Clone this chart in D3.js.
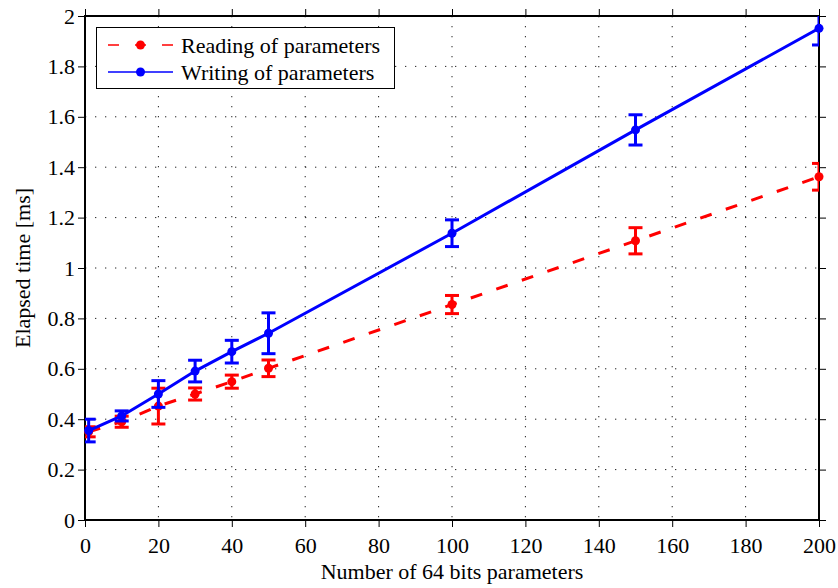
<!DOCTYPE html>
<html>
<head>
<meta charset="utf-8">
<script src="https://cdn.jsdelivr.net/npm/d3@7"></script>
<style>
  html, body { margin: 0; padding: 0; background: #fff; }
  svg text { font-family: "Liberation Serif", "Times New Roman", Times, serif; fill: #000; }
</style>
</head>
<body>
<svg id="chart" width="838" height="588"></svg>
<script>
// Number of 64-bit parameters transferred
const paramCounts = [1, 10, 20, 30, 40, 50, 100, 150, 200];

// Reading of parameters: mean elapsed time [ms] and error half-width
const readMean = [0.350, 0.390, 0.452, 0.500, 0.549, 0.602, 0.855, 1.108, 1.362];
const readErr  = [0.020, 0.022, 0.071, 0.024, 0.026, 0.033, 0.036, 0.052, 0.053];

// Writing of parameters: mean elapsed time [ms] and error half-width
const writeMean = [0.355, 0.413, 0.500, 0.591, 0.668, 0.741, 1.138, 1.548, 1.951];
const writeErr  = [0.045, 0.020, 0.053, 0.043, 0.045, 0.081, 0.053, 0.060, 0.066];

const xTicks = [0, 20, 40, 60, 80, 100, 120, 140, 160, 180, 200];
const yTicks = [0, 0.2, 0.4, 0.6, 0.8, 1, 1.2, 1.4, 1.6, 1.8, 2];

const seriesNames = ["Reading of parameters", "Writing of parameters"];
const seriesColors = ["#ff0000", "#0000ff"];

const svg = d3.select("#chart");
const plotLeft = 85, plotRight = 819, plotTop = 16, plotBottom = 520;

const x = d3.scaleLinear().domain([0, 200]).range([plotLeft, plotRight]);
const y = d3.scaleLinear().domain([0, 2]).range([plotBottom, plotTop]);

const fontSize = 22;

// plot clipping region
svg.append("defs").append("clipPath").attr("id", "plotClip")
  .append("rect").attr("x", plotLeft).attr("y", plotTop)
  .attr("width", plotRight - plotLeft).attr("height", plotBottom - plotTop);

// dotted grid
const grid = svg.append("g").attr("class", "grid");
grid.selectAll("line.gx").data(xTicks.slice(1, -1)).join("line")
  .attr("x1", d => x(d)).attr("x2", d => x(d))
  .attr("y1", plotTop).attr("y2", plotBottom)
  .attr("stroke", "#222").attr("stroke-width", 1)
  .attr("stroke-dasharray", "1.3,8.7");
grid.selectAll("line.gy").data(yTicks.slice(1, -1)).join("line")
  .attr("x1", plotLeft).attr("x2", plotRight)
  .attr("y1", d => y(d)).attr("y2", d => y(d))
  .attr("stroke", "#222").attr("stroke-width", 1)
  .attr("stroke-dasharray", "1.3,8.7");

// axes on all four sides, ticks outward
function styleAxis(g) {
  g.select(".domain").remove();
  g.selectAll(".tick line").attr("stroke", "#000").attr("stroke-width", 1);
  g.selectAll(".tick text").attr("font-size", fontSize)
    .attr("font-family", "Liberation Serif, Times New Roman, serif");
}
const fmt = d => String(+d.toFixed(1));

svg.append("g").attr("transform", `translate(0,${plotBottom})`)
  .call(d3.axisBottom(x).tickValues(xTicks).tickSize(7).tickSizeOuter(0).tickPadding(10).tickFormat(d3.format("d")))
  .call(styleAxis);
svg.append("g").attr("transform", `translate(0,${plotTop})`)
  .call(d3.axisTop(x).tickValues(xTicks).tickSize(7).tickSizeOuter(0).tickFormat(""))
  .call(styleAxis);
svg.append("g").attr("transform", `translate(${plotLeft},0)`)
  .call(d3.axisLeft(y).tickValues(yTicks).tickSize(7).tickSizeOuter(0).tickPadding(3).tickFormat(fmt))
  .call(styleAxis);
svg.append("g").attr("transform", `translate(${plotRight},0)`)
  .call(d3.axisRight(y).tickValues(yTicks).tickSize(7).tickSizeOuter(0).tickFormat(""))
  .call(styleAxis);

// axis box
svg.append("rect").attr("x", plotLeft).attr("y", plotTop)
  .attr("width", plotRight - plotLeft).attr("height", plotBottom - plotTop)
  .attr("fill", "none").attr("stroke", "#000").attr("stroke-width", 2);

// series: lines + error bars (clipped), markers on top
const series = [
  { name: seriesNames[0], color: seriesColors[0], mean: readMean, err: readErr, dash: "12,15" },
  { name: seriesNames[1], color: seriesColors[1], mean: writeMean, err: writeErr, dash: null }
];

const capHalf = 7;
series.forEach(s => {
  const pts = paramCounts.map((c, i) => ({ c, m: s.mean[i], e: s.err[i] }));
  const g = svg.append("g");
  const clipped = g.append("g").attr("clip-path", "url(#plotClip)");

  clipped.append("path").datum(pts)
    .attr("d", d3.line().x(d => x(d.c)).y(d => y(d.m)))
    .attr("fill", "none").attr("stroke", s.color).attr("stroke-width", 3)
    .attr("stroke-dasharray", s.dash);

  const eb = clipped.selectAll("g.eb").data(pts).join("g")
    .attr("stroke", s.color).attr("stroke-width", 3);
  eb.append("line")
    .attr("x1", d => x(d.c)).attr("x2", d => x(d.c))
    .attr("y1", d => y(d.m - d.e)).attr("y2", d => y(d.m + d.e));
  eb.append("line")
    .attr("x1", d => x(d.c) - capHalf).attr("x2", d => x(d.c) + capHalf)
    .attr("y1", d => y(d.m + d.e)).attr("y2", d => y(d.m + d.e));
  eb.append("line")
    .attr("x1", d => x(d.c) - capHalf).attr("x2", d => x(d.c) + capHalf)
    .attr("y1", d => y(d.m - d.e)).attr("y2", d => y(d.m - d.e));

  g.selectAll("circle").data(pts).join("circle")
    .attr("cx", d => x(d.c)).attr("cy", d => y(d.m)).attr("r", 4.5)
    .attr("fill", s.color);
});

// axis labels
svg.append("text").attr("x", (plotLeft + plotRight) / 2).attr("y", 579)
  .attr("text-anchor", "middle").attr("font-size", fontSize)
  .text("Number of 64 bits parameters");
svg.append("text")
  .attr("transform", `translate(30,${(plotTop + plotBottom) / 2}) rotate(-90)`)
  .attr("text-anchor", "middle").attr("font-size", fontSize)
  .text("Elapsed time [ms]");

// legend
const lg = svg.append("g");
lg.append("rect").attr("x", 96.5).attr("y", 27.5).attr("width", 298).attr("height", 61)
  .attr("fill", "#fff").attr("stroke", "#000").attr("stroke-width", 1);
const rowY = [45, 72];
series.forEach((s, i) => {
  lg.append("line").attr("x1", 108).attr("x2", 173).attr("y1", rowY[i]).attr("y2", rowY[i])
    .attr("stroke", s.color).attr("stroke-width", 1.5)
    .attr("stroke-dasharray", s.dash ? "11,16" : null);
  lg.append("circle").attr("cx", 140.5).attr("cy", rowY[i]).attr("r", 4.5).attr("fill", s.color);
  lg.append("text").attr("x", 181).attr("y", rowY[i] + 8).attr("font-size", fontSize).text(s.name);
});
</script>
</body>
</html>
